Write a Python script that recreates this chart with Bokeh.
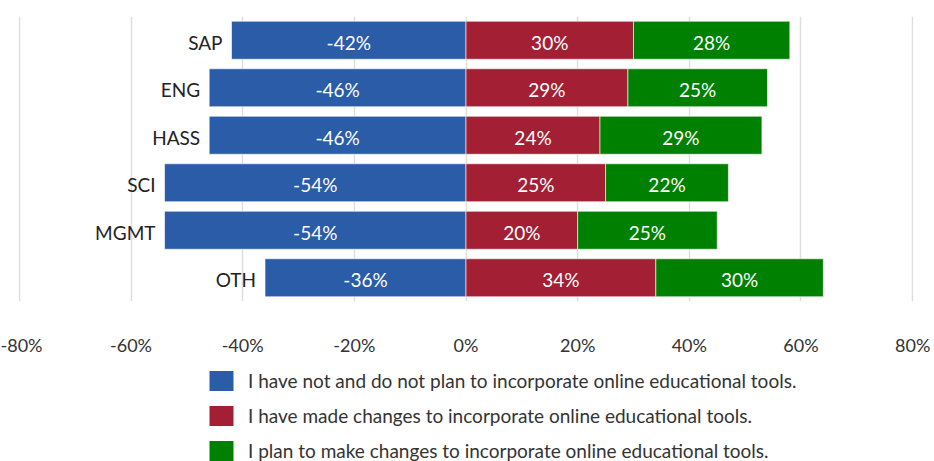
from bokeh.plotting import figure
from bokeh.layouts import column
from bokeh.models import ColumnDataSource, FactorRange, Range1d, FixedTicker, Legend, LegendItem
from bokeh.core.properties import value
from bokeh.embed import file_html
from bokeh.resources import INLINE

categories = ["SAP", "ENG", "HASS", "SCI", "MGMT", "OTH"]
not_plan = [42, 46, 46, 54, 54, 36]
made_changes = [30, 29, 24, 25, 20, 34]
plan_changes = [28, 25, 29, 22, 25, 30]
tick_values = [-80, -60, -40, -20, 0, 20, 40, 60, 80]
tick_labels = ["-80%", "-60%", "-40%", "-20%", "0%", "20%", "40%", "60%", "80%"]
series_names = [
    "I have not and do not plan to incorporate online educational tools.",
    "I have made changes to incorporate online educational tools.",
    "I plan to make changes to incorporate online educational tools.",
]
colors = ["#2a5ca8", "#a31f34", "#008000"]

FONT = "Lato"
W = 934
PAD = 0.15  # tiny range pad so the edge gridlines are drawn

neg = [-v for v in not_plan]
red_end = list(made_changes)
green_end = [m + g for m, g in zip(made_changes, plan_changes)]

src = ColumnDataSource(dict(
    cat=categories,
    neg=neg,
    zero=[0] * len(categories),
    red_end=red_end,
    green_end=green_end,
    neg_mid=[v / 2 for v in neg],
    red_mid=[v / 2 for v in red_end],
    green_mid=[(a + b) / 2 for a, b in zip(red_end, green_end)],
    neg_lbl=[f"-{v}%" for v in not_plan],
    red_lbl=[f"{v}%" for v in made_changes],
    green_lbl=[f"{v}%" for v in plan_changes],
))

p = figure(
    width=W, height=358,
    x_range=Range1d(tick_values[0] - PAD, tick_values[-1] + PAD),
    y_range=FactorRange(factors=list(reversed(categories))),
    y_axis_location=None,
    output_backend="svg", toolbar_location=None,
    min_border_left=18, min_border_right=21, min_border_top=16, min_border_bottom=55,
)
p.outline_line_color = None
p.background_fill_color = "white"
p.border_fill_color = "white"

p.ygrid.visible = False
p.xgrid.ticker = FixedTicker(ticks=tick_values)
p.xgrid.grid_line_color = "#dedede"
p.xgrid.grid_line_width = 1.5

ax = p.xaxis[0]
ax.ticker = FixedTicker(ticks=tick_values)
ax.major_label_overrides = {t: l for t, l in zip(tick_values, tick_labels)}
ax.axis_line_color = None
ax.major_tick_line_color = None
ax.minor_tick_line_color = None
ax.major_tick_out = 0
ax.major_tick_in = 0
ax.major_label_standoff = 32
ax.major_label_text_font = FONT
ax.major_label_text_font_size = "18px"
ax.major_label_text_color = "#333333"


def add_bars(fig, visible=True):
    rs = []
    for left, right, c in [("neg", "zero", colors[0]), ("zero", "red_end", colors[1]),
                           ("red_end", "green_end", colors[2])]:
        r = fig.hbar(y="cat", left=left, right=right, height=0.8, source=src,
                     fill_color=c, line_color="white", line_width=0.6)
        r.visible = visible
        rs.append(r)
    return rs


add_bars(p)

for xcol, tcol in [("neg_mid", "neg_lbl"), ("red_mid", "red_lbl"), ("green_mid", "green_lbl")]:
    p.text(x=xcol, y="cat", text=tcol, source=src, text_align="center",
           text_baseline="middle", text_color="white", text_font=value(FONT),
           text_font_size="19px", y_offset=2)

p.text(x="neg", y="cat", text="cat", source=src, text_align="right",
       text_baseline="middle", text_color="#222222", text_font=value(FONT),
       text_font_size="19px", x_offset=-9, y_offset=2)

# legend panel
q = figure(
    width=W, height=103,
    x_range=Range1d(tick_values[0], tick_values[-1]),
    y_range=FactorRange(factors=list(reversed(categories))),
    x_axis_location=None, y_axis_location=None,
    output_backend="svg", toolbar_location=None,
    min_border_left=0, min_border_right=0, min_border_top=0, min_border_bottom=0,
)
q.outline_line_color = None
q.grid.visible = False
rs = add_bars(q, visible=False)
for r in rs:
    r.glyph.line_color = None

legend = Legend(
    items=[LegendItem(label=n, renderers=[r]) for n, r in zip(series_names, rs)],
    location=(188, -2),
    orientation="vertical",
    glyph_width=30, glyph_height=25, label_height=22, spacing=10,
    label_standoff=12, padding=0, margin=0,
    border_line_color=None, background_fill_alpha=0,
    inactive_fill_alpha=0,
    label_text_font=FONT, label_text_font_size="19px", label_text_color="#333333",
)
q.add_layout(legend, "center")

layout = column(p, q, spacing=0)
open("out.html", "w").write(file_html(layout, INLINE))
